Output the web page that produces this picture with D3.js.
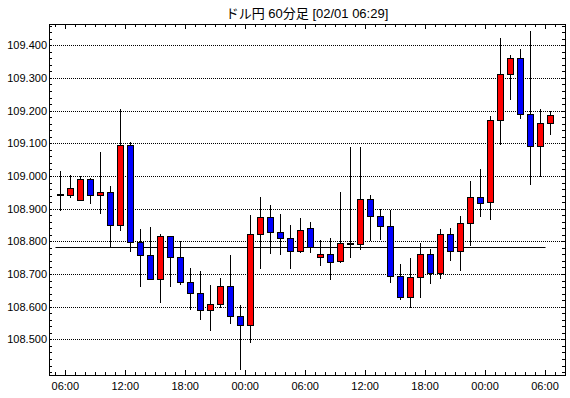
<!DOCTYPE html>
<html>
<head>
<meta charset="utf-8">
<script src="https://cdn.jsdelivr.net/npm/d3@7"></script>
<style>
  html, body { margin: 0; padding: 0; background: #fff; }
  svg text { font-family: "Liberation Sans", Arial, "Noto Sans CJK JP", sans-serif; fill: #000; }
</style>
</head>
<body>
<div id="chart"></div>
<script>
// hourly USD/JPY candles, first bar 2019-01-30 05:00
var firstBar = Date.UTC(2019, 0, 30, 5, 0);
var opens = [
  108.945, 108.942, 108.928, 108.992, 108.942, 108.952, 108.850, 109.096, 108.799, 108.759,
  108.686, 108.815, 108.753, 108.676, 108.643, 108.589, 108.608, 108.663, 108.572, 108.543,
  108.822, 108.875, 108.829, 108.810, 108.769, 108.840, 108.752, 108.762, 108.740, 108.794,
  108.793, 108.931, 108.879, 108.848, 108.694, 108.630, 108.690, 108.760, 108.702, 108.822,
  108.769, 108.856, 108.936, 108.921, 109.172, 109.311, 109.360, 109.191, 109.091, 109.162
];
var highs = [
  109.014, 109.004, 109.001, 108.995, 109.073, 108.970, 109.204, 109.105, 108.837, 108.843,
  108.821, 108.815, 108.802, 108.719, 108.710, 108.667, 108.689, 108.757, 108.605, 108.880,
  108.937, 108.910, 108.883, 108.851, 108.872, 108.859, 108.803, 108.809, 108.951, 109.088,
  109.088, 108.941, 108.900, 108.896, 108.730, 108.750, 108.795, 108.777, 108.838, 108.842,
  108.878, 108.985, 109.022, 109.183, 109.423, 109.370, 109.389, 109.444, 109.206, 109.199
];
var lows = [
  108.894, 108.932, 108.925, 108.914, 108.883, 108.779, 108.831, 108.767, 108.660, 108.683,
  108.611, 108.660, 108.666, 108.589, 108.558, 108.527, 108.595, 108.546, 108.406, 108.490,
  108.715, 108.760, 108.757, 108.715, 108.765, 108.765, 108.724, 108.683, 108.733, 108.748,
  108.775, 108.800, 108.803, 108.674, 108.620, 108.596, 108.628, 108.668, 108.684, 108.741,
  108.710, 108.786, 108.874, 108.865, 109.094, 109.231, 109.174, 108.971, 108.996, 109.124
];
var closes = [
  108.945, 108.964, 108.992, 108.942, 108.952, 108.850, 109.096, 108.799, 108.759, 108.686,
  108.815, 108.753, 108.676, 108.643, 108.589, 108.608, 108.663, 108.572, 108.543, 108.822,
  108.875, 108.829, 108.810, 108.769, 108.835, 108.782, 108.762, 108.737, 108.794, 108.794,
  108.931, 108.879, 108.848, 108.694, 108.630, 108.690, 108.760, 108.702, 108.822, 108.769,
  108.856, 108.936, 108.918, 109.172, 109.311, 109.360, 109.191, 109.091, 109.162, 109.188
];
var priceLine = 108.782;
var yTicks = [108.5, 108.6, 108.7, 108.8, 108.9, 109.0, 109.1, 109.2, 109.3, 109.4];
var title = 'ドル円 60分足 [02/01 06:29]';

var W = 570, H = 398;
var plotL = 49, plotR = 565, plotT = 24, plotB = 375;

var bars = opens.map(function(o, i) {
  return {
    t: d3.utcHour.offset(new Date(firstBar), i),
    o: o, h: highs[i], l: lows[i], c: closes[i]
  };
});

// 10px per hour, 06:00 sits at x=65.3
var t0 = Date.UTC(2019, 0, 30, 6, 0);
var hour = 3600 * 1000;
var x = d3.scaleUtc()
  .domain([new Date(t0 - 1.63 * hour), new Date(t0 + 50 * hour)])
  .range([plotL, plotR]);
var y = d3.scaleLinear()
  .domain([108.391, 109.465])
  .range([plotB, plotT]);

var px = function(v) { return Math.round(v) + 0.5; };
var mid = function(d) { return x(new Date(+d.t + hour / 2)); };

var svg = d3.select('#chart').append('svg')
  .attr('width', W).attr('height', H);

svg.append('text')
  .attr('x', (plotL + plotR) / 2).attr('y', 18)
  .attr('text-anchor', 'middle')
  .style('font-size', '13px')
  .text(title);

// dotted grid
svg.append('g').selectAll('line').data(yTicks).enter().append('line')
  .attr('x1', plotL).attr('x2', plotR)
  .attr('y1', function(d) { return px(y(d)); })
  .attr('y2', function(d) { return px(y(d)); })
  .attr('stroke', '#000').attr('stroke-dasharray', '1,1');

svg.append('g').selectAll('text').data(yTicks).enter().append('text')
  .attr('x', plotL - 2)
  .attr('y', function(d) { return y(d) + 4; })
  .attr('text-anchor', 'end')
  .style('font-size', '11px')
  .text(d3.format('.3f'));

// minor price ticks on both sides
var minorY = d3.range(108.40, 109.461, 0.02);
var ty = svg.append('g');
ty.selectAll('.l').data(minorY).enter().append('line')
  .attr('x1', plotL).attr('x2', plotL + 3)
  .attr('y1', function(d) { return px(y(d)); })
  .attr('y2', function(d) { return px(y(d)); })
  .attr('stroke', '#000');
ty.selectAll('.r').data(minorY).enter().append('line')
  .attr('x1', plotR - 3).attr('x2', plotR)
  .attr('y1', function(d) { return px(y(d)); })
  .attr('y2', function(d) { return px(y(d)); })
  .attr('stroke', '#000');

// time ticks top and bottom
var hours = x.ticks(d3.utcHour.every(1));
var isMajor = function(d) { return d.getUTCHours() % 6 == 0; };
var tx = svg.append('g');
tx.selectAll('.b').data(hours).enter().append('line')
  .attr('x1', function(d) { return px(x(d)); })
  .attr('x2', function(d) { return px(x(d)); })
  .attr('y1', plotB)
  .attr('y2', function(d) { return plotB - (isMajor(d) ? 5 : 3); })
  .attr('stroke', '#000');
tx.selectAll('.t').data(hours).enter().append('line')
  .attr('x1', function(d) { return px(x(d)); })
  .attr('x2', function(d) { return px(x(d)); })
  .attr('y1', plotT)
  .attr('y2', function(d) { return plotT + (isMajor(d) ? 5 : 3); })
  .attr('stroke', '#000');

svg.append('g').selectAll('text').data(hours.filter(isMajor)).enter().append('text')
  .attr('x', function(d) { return x(d); })
  .attr('y', 390)
  .attr('text-anchor', 'middle')
  .style('font-size', '11px')
  .text(d3.utcFormat('%H:%M'));

// reference price line
svg.append('line')
  .attr('x1', px(x(new Date(firstBar))))
  .attr('x2', px(x(new Date(t0 + 48 * hour))))
  .attr('y1', px(y(priceLine))).attr('y2', px(y(priceLine)))
  .attr('stroke', '#000');

// candles
var g = svg.append('g');
g.selectAll('line').data(bars).enter().append('line')
  .attr('x1', function(d) { return px(mid(d)); })
  .attr('x2', function(d) { return px(mid(d)); })
  .attr('y1', function(d) { return Math.round(y(d.h)); })
  .attr('y2', function(d) { return Math.round(y(d.l)); })
  .attr('stroke', '#000');

g.selectAll('rect').data(bars).enter().append('rect')
  .attr('x', function(d) { return Math.round(mid(d)) - 3 + 0.5; })
  .attr('width', 6)
  .attr('y', function(d) { return px(y(Math.max(d.o, d.c))); })
  .attr('height', function(d) {
    var hh = Math.round(y(Math.min(d.o, d.c))) - Math.round(y(Math.max(d.o, d.c)));
    return Math.max(hh, 1);
  })
  .attr('fill', function(d) {
    if (d.c == d.o) return '#000';
    return d.c > d.o ? '#ff0000' : '#0000ff';
  })
  .attr('stroke', '#000');

// frame
svg.append('rect')
  .attr('x', plotL + 0.5).attr('y', plotT + 0.5)
  .attr('width', plotR - plotL).attr('height', plotB - plotT)
  .attr('fill', 'none').attr('stroke', '#000');
</script>
</body>
</html>
